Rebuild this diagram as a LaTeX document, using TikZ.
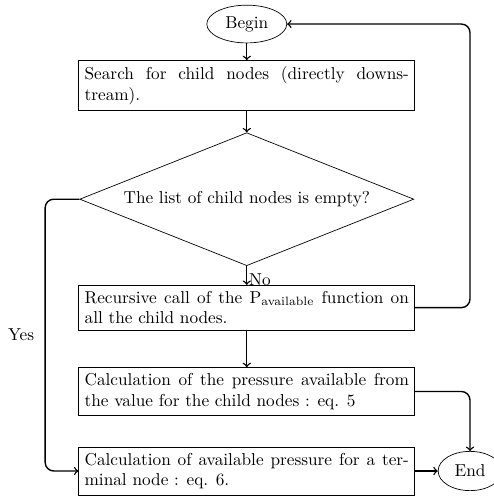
\documentclass[tikz,border=0pt]{standalone}
\usepackage{amsmath, amssymb, amsfonts}
\usepackage{tikz}
\usetikzlibrary{arrows, calc, shapes}
\usetikzlibrary{positioning}

\begin{document}
\begin{tikzpicture}[process/.style={draw, rectangle, text width=6.61cm, inner sep=0.12cm, align=justify},
                    decision/.style={draw, diamond, aspect=2.5, inner sep=0pt, minimum width=6.81cm, minimum height=2.71cm},
                    terminal/.style={draw, ellipse, inner sep=1pt, minimum width=1.63cm, minimum height=0.77cm},
                    flow/.style={->, thick, rounded corners=5pt}]
                    \useasboundingbox (0,0) rectangle (10.05,-10.13);
                    \node[terminal] (begin) at (5.03,-0.49) {Begin};
                    \node[process] (search) at (5.03,-1.74) {Search for child nodes (directly downs-\linebreak tream).};
                    \node[decision] (empty) at (5.03,-4.06) {The list of child nodes is empty?};
                    \node[process] (recall) at (5.03,-6.27) {Recursive call of the P\textsubscript{available} function on\linebreak all the child nodes.};
                    \node[process] (calcchild) at (5.03,-7.98) {Calculation of the pressure available from\linebreak the value for the child nodes : eq. 5};
                    \node[process] (calcterm) at (5.03,-9.60) {Calculation of available pressure for a ter-\linebreak minal node : eq. 6.};
                    \node[terminal, minimum width=1.3cm, minimum height=0.8cm] (end) at (9.58,-9.60) {End};
                    \coordinate (yesrail) at (0.92,-4.06);
                    \coordinate (looprail) at (9.58,-0.49);
                    \draw[flow] (begin) -- (search);
                    \draw[flow] (search) -- (empty);
                    \draw[flow] (empty) -- node[pos=0.75, right, inner sep=1pt] {No} (recall);
                    \draw[flow] (empty.west) -- (yesrail) |- node[pos=0.25, left, inner sep=6pt] {Yes} (calcterm.west);
                    \draw[flow] (recall.east) -| (looprail) -- (begin.east);
                    \draw[flow] (recall) -- (calcchild);
                    \draw[flow] (calcchild.east) -| (end.north);
                    \draw[flow] (calcterm.east) -- (end.west);
                \end{tikzpicture}
\end{document}
